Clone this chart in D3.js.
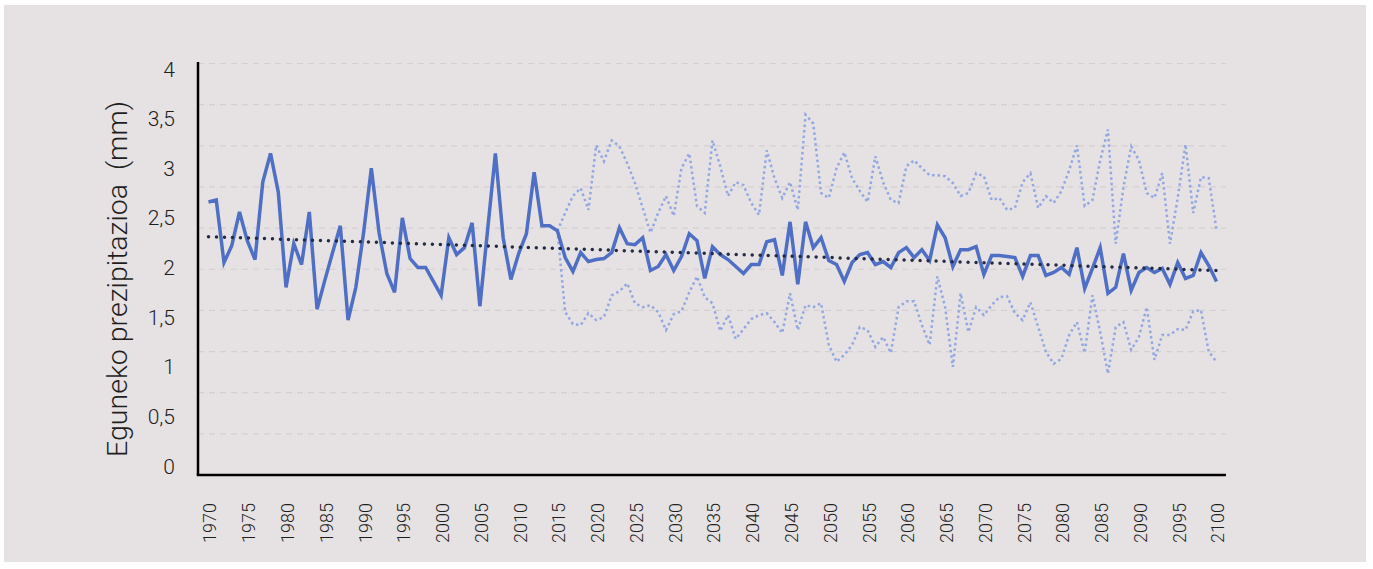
<html lang="eu">
<head>
<meta charset="utf-8">
<title>Eguneko prezipitazioa</title>
<style>
	body {
		margin: 0;
		background-color: white;
		font-family: Roboto, "Helvetica Neue", Helvetica, Arial, sans-serif;
	}
	.tick-label {
		fill: #1e1e1e;
		font-weight: 300;
	}
</style>
</head>
<body>
<div id="chart"></div>

<script src="https://d3js.org/d3.v7.min.js"></script>
<script type="text/javascript">

	// urteko batez besteko eguneko prezipitazioa (mm), 1970-2100
	var startYear = 1970;
	var precip = [
		2.66, 2.68, 2.05, 2.22, 2.56, 2.27, 2.08, 2.86, 3.15, 2.76,
		1.80, 2.24, 2.03, 2.56, 1.58, 1.87, 2.15, 2.42, 1.47, 1.80,
		2.35, 3.00, 2.35, 1.94, 1.75, 2.50, 2.09, 2.00, 2.00, 1.86,
		1.72, 2.30, 2.13, 2.20, 2.45, 1.61, 2.38, 3.15, 2.30, 1.88,
		2.14, 2.34, 2.96, 2.42, 2.42, 2.37, 2.10, 1.96, 2.15, 2.06,
		2.08, 2.09, 2.15, 2.40, 2.24, 2.23, 2.30, 1.97, 2.01, 2.13,
		1.97, 2.11, 2.34, 2.27, 1.89, 2.21, 2.13, 2.08, 2.01, 1.94,
		2.03, 2.03, 2.26, 2.28, 1.92, 2.46, 1.83, 2.46, 2.20, 2.30,
		2.07, 2.03, 1.86, 2.05, 2.13, 2.15, 2.03, 2.06, 2.00, 2.15,
		2.20, 2.10, 2.18, 2.07, 2.43, 2.30, 2.01, 2.18, 2.18, 2.21,
		1.93, 2.12, 2.12, 2.11, 2.10, 1.91, 2.12, 2.12, 1.92, 1.95,
		2.00, 1.93, 2.20, 1.79, 1.99, 2.20, 1.74, 1.80, 2.14, 1.77,
		1.95, 2.00, 1.95, 1.99, 1.83, 2.05, 1.89, 1.92, 2.15, 2.02,
		1.86
	];

	// proiekzioen goiko eta beheko mugak, 2015-2100
	var boundStart = 2015;
	var upperBound = [
		2.37, 2.55, 2.72, 2.80, 2.58,
		3.23, 3.07, 3.28, 3.22, 3.05, 2.85, 2.60, 2.35, 2.55, 2.72,
		2.52, 3.00, 3.15, 2.62, 2.55, 3.28, 3.02, 2.72, 2.86, 2.83,
		2.65, 2.53, 3.18, 2.90, 2.70, 2.86, 2.58, 3.54, 3.45, 2.75,
		2.70, 3.00, 3.16, 2.90, 2.77, 2.66, 3.12, 2.86, 2.68, 2.65,
		3.02, 3.08, 3.00, 2.93, 2.93, 2.92, 2.85, 2.72, 2.75, 2.95,
		2.92, 2.68, 2.70, 2.58, 2.60, 2.86, 2.95, 2.60, 2.72, 2.65,
		2.77, 2.98, 3.23, 2.62, 2.68, 3.08, 3.39, 2.24, 2.81, 3.22,
		3.08, 2.75, 2.70, 2.95, 2.24, 2.70, 3.24, 2.55, 2.91, 2.90,
		2.38
	];
	var lowerBound = [
		2.37, 1.55, 1.43, 1.42, 1.54,
		1.47, 1.50, 1.72, 1.76, 1.84, 1.64, 1.60, 1.62, 1.55, 1.37,
		1.53, 1.56, 1.75, 1.91, 1.70, 1.64, 1.36, 1.52, 1.28, 1.38,
		1.48, 1.52, 1.54, 1.45, 1.34, 1.74, 1.37, 1.62, 1.60, 1.64,
		1.22, 1.05, 1.12, 1.22, 1.40, 1.37, 1.20, 1.30, 1.14, 1.60,
		1.66, 1.66, 1.42, 1.22, 1.91, 1.60, 1.00, 1.74, 1.35, 1.60,
		1.52, 1.62, 1.70, 1.71, 1.54, 1.47, 1.65, 1.40, 1.15, 1.03,
		1.08, 1.32, 1.45, 1.14, 1.72, 1.35, 0.93, 1.40, 1.45, 1.17,
		1.30, 1.60, 1.07, 1.32, 1.32, 1.38, 1.37, 1.56, 1.57, 1.15,
		1.05
	];

	// joera lineala (irakurritako muturrak)
	var trendYears = [1970, 2100];
	var trendValues = [2.31, 1.97];

	var yTicks = [0, 0.5, 1, 1.5, 2, 2.5, 3, 3.5, 4];
	var xTicks = [1970, 1975, 1980, 1985, 1990, 1995, 2000, 2005, 2010, 2015, 2020,
		2025, 2030, 2035, 2040, 2045, 2050, 2055, 2060, 2065, 2070, 2075, 2080,
		2085, 2090, 2095, 2100];
	var gridSteps = [1, 2, 3, 4, 5, 6, 7, 8, 9, 10];

	var width = 1373;
	var height = 569;

	var svg = d3.select("#chart")
		.append("svg")
		.attr("width", width)
		.attr("height", height);

	// panel grisa
	svg.append("rect")
		.attr("x", 4)
		.attr("y", 5)
		.attr("width", 1362)
		.attr("height", 557)
		.attr("fill", "#e6e2e3");

	var plotLeft = 198, plotRight = 1226, plotBottom = 475, plotTop = 62;

	var x = d3.scaleLinear().domain([1970, 2100]).range([208.5, 1216.5]);
	var y = d3.scaleLinear().domain([0, 4]).range([466, 69]);
	var yGrid = d3.scaleLinear().domain([0, 10]).range([plotBottom, 63.5]);

	// sareta
	svg.append("g")
		.selectAll("line")
		.data(gridSteps)
		.enter()
		.append("line")
		.attr("x1", plotLeft)
		.attr("x2", plotRight)
		.attr("y1", function(d) { return yGrid(d); })
		.attr("y2", function(d) { return yGrid(d); })
		.attr("stroke", "#d4d0d1")
		.attr("stroke-width", 1.2)
		.attr("stroke-dasharray", "6,5");

	var fmt = function(d) { return String(d).replace(".", ","); };

	// Y ardatzeko etiketak
	svg.append("g")
		.selectAll("text")
		.data(yTicks)
		.enter()
		.append("text")
		.attr("class", "tick-label")
		.attr("x", 175)
		.attr("y", function(d) { return y(d); })
		.attr("dy", "0.36em")
		.attr("text-anchor", "end")
		.attr("font-size", 21)
		.text(fmt);

	// X ardatzeko etiketak (biratuta)
	svg.append("g")
		.selectAll("text")
		.data(xTicks)
		.enter()
		.append("text")
		.attr("class", "tick-label")
		.attr("transform", function(d) { return "translate(" + (x(d) + 1.5) + ",503) rotate(-90)"; })
		.attr("dy", "0.36em")
		.attr("text-anchor", "end")
		.attr("font-size", 18)
		.text(function(d) { return d; });

	// ardatzaren izenburua
	svg.append("text")
		.attr("transform", "translate(127,279) rotate(-90)")
		.attr("text-anchor", "middle")
		.attr("font-size", 28.5)
		.attr("font-weight", 300)
		.attr("fill", "#1e1e1e")
		.style("white-space", "pre")
		.text("Eguneko prezipitazioa  (mm)");

	var line = d3.line()
		.x(function(d) { return x(d.year); })
		.y(function(d) { return y(d.value); });

	function toSeries(values, first) {
		return values.map(function(v, i) { return {year: first + i, value: v}; });
	}

	// goiko eta beheko mugak
	svg.append("path")
		.datum(toSeries(upperBound, boundStart))
		.attr("d", line)
		.attr("fill", "none")
		.attr("stroke", "#93a8e0")
		.attr("stroke-width", 2.5)
		.attr("stroke-dasharray", "2.5,3");

	svg.append("path")
		.datum(toSeries(lowerBound, boundStart))
		.attr("d", line)
		.attr("fill", "none")
		.attr("stroke", "#93a8e0")
		.attr("stroke-width", 2.5)
		.attr("stroke-dasharray", "2.5,3");

	// serie nagusia
	svg.append("path")
		.datum(toSeries(precip, startYear))
		.attr("d", line)
		.attr("fill", "none")
		.attr("stroke", "#4f6fc5")
		.attr("stroke-width", 3.5)
		.attr("stroke-linejoin", "miter");

	// joera
	svg.append("path")
		.datum(trendYears.map(function(yr, i) { return {year: yr, value: trendValues[i]}; }))
		.attr("d", line)
		.attr("fill", "none")
		.attr("stroke", "#222a44")
		.attr("stroke-width", 3.5)
		.attr("stroke-linecap", "round")
		.attr("stroke-dasharray", "0,8");

	// ardatzak
	svg.append("line")
		.attr("x1", plotLeft).attr("x2", plotLeft)
		.attr("y1", plotTop).attr("y2", plotBottom)
		.attr("stroke", "#000").attr("stroke-width", 2.5);

	svg.append("line")
		.attr("x1", plotLeft - 1.25).attr("x2", plotRight)
		.attr("y1", plotBottom).attr("y2", plotBottom)
		.attr("stroke", "#000").attr("stroke-width", 2.5);

</script>
</body>
</html>
